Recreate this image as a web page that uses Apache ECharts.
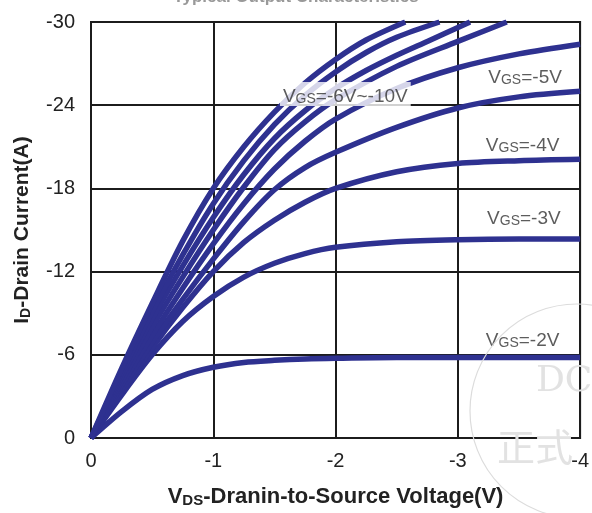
<!DOCTYPE html>
<html>
<head>
<meta charset="utf-8">
<script src="https://cdn.jsdelivr.net/npm/echarts@6/dist/echarts.min.js"></script>
<style>
html,body{margin:0;padding:0;background:#fff;}
#chart{width:592px;height:513px;}
</style>
</head>
<body>
<div id="chart"></div>
<script>
// ---- data ----
const vdsStd = [0, -0.25, -0.5, -0.75, -1, -1.25, -1.5, -1.75, -2, -2.5, -3, -3.5, -4];
const id_vgs2 = [0, -1.9, -3.5, -4.5, -5.1, -5.45, -5.6, -5.7, -5.75, -5.8, -5.8, -5.8, -5.8];
const id_vgs3 = [0, -3.1, -6.0, -8.4, -10.2, -11.6, -12.6, -13.3, -13.75, -14.15, -14.3, -14.35, -14.35];
const id_vgs4 = [0, -3.3, -6.5, -9.4, -12.0, -14.1, -15.7, -17.0, -18.0, -19.2, -19.8, -20.0, -20.1];
const id_vgs5 = [0, -3.5, -6.9, -10.0, -12.9, -15.6, -17.9, -19.5, -20.6, -22.4, -23.8, -24.6, -25.0];
const id_vgs6 = [0, -3.8, -7.4, -10.8, -14.0, -16.9, -19.4, -21.4, -23.0, -25.2, -26.7, -27.7, -28.4];
const vds_vgs7 = [0, -0.25, -0.5, -0.75, -1, -1.25, -1.5, -1.75, -2, -2.5, -3, -3.4];
const id_vgs7 = [0, -4.1, -8.0, -11.6, -15.0, -18.1, -20.8, -22.8, -24.4, -26.8, -28.6, -30.0];
const vds_vgs8 = [0, -0.25, -0.5, -0.75, -1, -1.25, -1.5, -1.75, -2, -2.25, -2.5, -2.75, -3.1];
const id_vgs8 = [0, -4.4, -8.6, -12.4, -15.9, -19.0, -21.6, -23.6, -25.2, -26.5, -27.6, -28.6, -30.0];
const vds_vgs9 = [0, -0.25, -0.5, -0.75, -1, -1.25, -1.5, -1.75, -2, -2.25, -2.5, -2.85];
const id_vgs9 = [0, -4.7, -9.1, -13.2, -16.9, -20.0, -22.6, -24.7, -26.4, -27.8, -28.9, -30.0];
const vds_vgs10 = [0, -0.25, -0.5, -0.75, -1, -1.25, -1.5, -1.75, -2, -2.25, -2.57];
const id_vgs10 = [0, -5.0, -9.7, -14.2, -18.0, -21.0, -23.5, -25.6, -27.3, -28.7, -30.0];

const xTicks = [0, -1, -2, -3, -4];
const yTicks = [0, -6, -12, -18, -24, -30];

const labelTexts = ['=-6V~-10V', '=-5V', '=-4V', '=-3V', '=-2V'];
const labelV = [-2.08, -3.55, -3.53, -3.54, -3.53];
const labelI = [-24.8, -26.1, -21.2, -15.9, -7.1];

// ---- chart ----
const pair = (xs, ys) => xs.map((x, i) => [x, ys[i]]);
const curves = [
  pair(vdsStd, id_vgs2), pair(vdsStd, id_vgs3), pair(vdsStd, id_vgs4),
  pair(vdsStd, id_vgs5), pair(vdsStd, id_vgs6), pair(vds_vgs7, id_vgs7),
  pair(vds_vgs8, id_vgs8), pair(vds_vgs9, id_vgs9), pair(vds_vgs10, id_vgs10)
];
const names = ['-2V', '-3V', '-4V', '-5V', '-6V', '-7V', '-8V', '-9V', '-10V'];
const lineColor = '#2e3190';
const gridColor = '#1c1c1c';
const font = 'Liberation Sans, Arial, sans-serif';

const series = curves.map((d, i) => ({
  type: 'line', name: names[i], data: d, showSymbol: false, smooth: 0.3,
  lineStyle: { color: lineColor, width: 5.5 }, z: 3, silent: true
}));

series.push({
  type: 'scatter', symbolSize: 0, z: 20, silent: true,
  data: labelV.map((v, i) => ({
    value: [v, labelI[i]],
    label: i === 0 ? { backgroundColor: '#ffffff', padding: [2, 3, 0, 3] } : {}
  })),
  label: {
    show: true, position: 'inside',
    formatter: p => '{v|V}{s|GS}{v|' + labelTexts[p.dataIndex] + '}',
    rich: {
      v: { fontFamily: font, fontSize: 19, color: '#333', lineHeight: 22, verticalAlign: 'bottom' },
      s: { fontFamily: font, fontSize: 14, color: '#333', lineHeight: 22, verticalAlign: 'bottom' }
    }
  },
  labelLayout: { hideOverlap: false }
});

const chart = echarts.init(document.getElementById('chart'), null, { renderer: 'canvas' });
chart.setOption({
  animation: false,
  backgroundColor: '#fff',
  title: {
    text: 'Typical Output Characteristics', left: 'center', top: -16,
    textStyle: { fontFamily: font, fontSize: 17, fontWeight: 'bold', color: '#999' }
  },
  grid: { left: 91, right: 9, top: 22, bottom: 70, show: true, borderColor: gridColor, borderWidth: 2, backgroundColor: 'transparent' },
  xAxis: {
    type: 'value', min: -4, max: 0, interval: 1, inverse: true,
    axisLine: { show: true, lineStyle: { color: gridColor, width: 2 } },
    axisTick: { show: false },
    splitLine: { show: true, lineStyle: { color: gridColor, width: 2 } },
    axisLabel: { fontFamily: font, fontSize: 20, color: '#222', margin: 13,
      formatter: v => xTicks.includes(v) ? String(v) : '' },
    name: '{b|V}{sb|DS}{b|-Dranin-to-Source Voltage(V)}',
    nameLocation: 'middle', nameGap: 46,
    nameTextStyle: {
      rich: {
        b: { fontFamily: font, fontSize: 22, fontWeight: 'bold', color: '#222', lineHeight: 24, verticalAlign: 'bottom' },
        sb: { fontFamily: font, fontSize: 15, fontWeight: 'bold', color: '#222', lineHeight: 24, verticalAlign: 'bottom' }
      }
    }
  },
  yAxis: {
    type: 'value', min: -30, max: 0, interval: 6, inverse: true,
    axisLine: { show: true, lineStyle: { color: gridColor, width: 2 } },
    axisTick: { show: false },
    splitLine: { show: true, lineStyle: { color: gridColor, width: 2 } },
    axisLabel: { fontFamily: font, fontSize: 20, color: '#222', margin: 16,
      formatter: v => yTicks.includes(v) ? String(v) : '' },
    name: '{b|I}{sb|D}{b|-Drain Current(A)}',
    nameLocation: 'middle', nameGap: 58, nameRotate: 90,
    nameTextStyle: {
      rich: {
        b: { fontFamily: font, fontSize: 21, fontWeight: 'bold', color: '#222', lineHeight: 24, verticalAlign: 'bottom' },
        sb: { fontFamily: font, fontSize: 14, fontWeight: 'bold', color: '#222', lineHeight: 24, verticalAlign: 'bottom' }
      }
    }
  },
  graphic: [
    { type: 'circle', shape: { cx: 577, cy: 411, r: 107 }, style: { fill: 'none', stroke: '#dcdcdc', lineWidth: 1.2 }, z: 100, silent: true },
    { type: 'text', x: 536, y: 364, style: { text: 'DC', font: '36px "DejaVu Serif", serif', fill: '#e2e2e2' }, z: 100, silent: true },
    { type: 'text', x: 497, y: 428, style: { text: '正式', font: '38px "Noto Sans CJK SC", sans-serif', fill: '#e2e2e2' }, z: 100, silent: true }
  ],
  series: series
});
</script>
</body>
</html>
